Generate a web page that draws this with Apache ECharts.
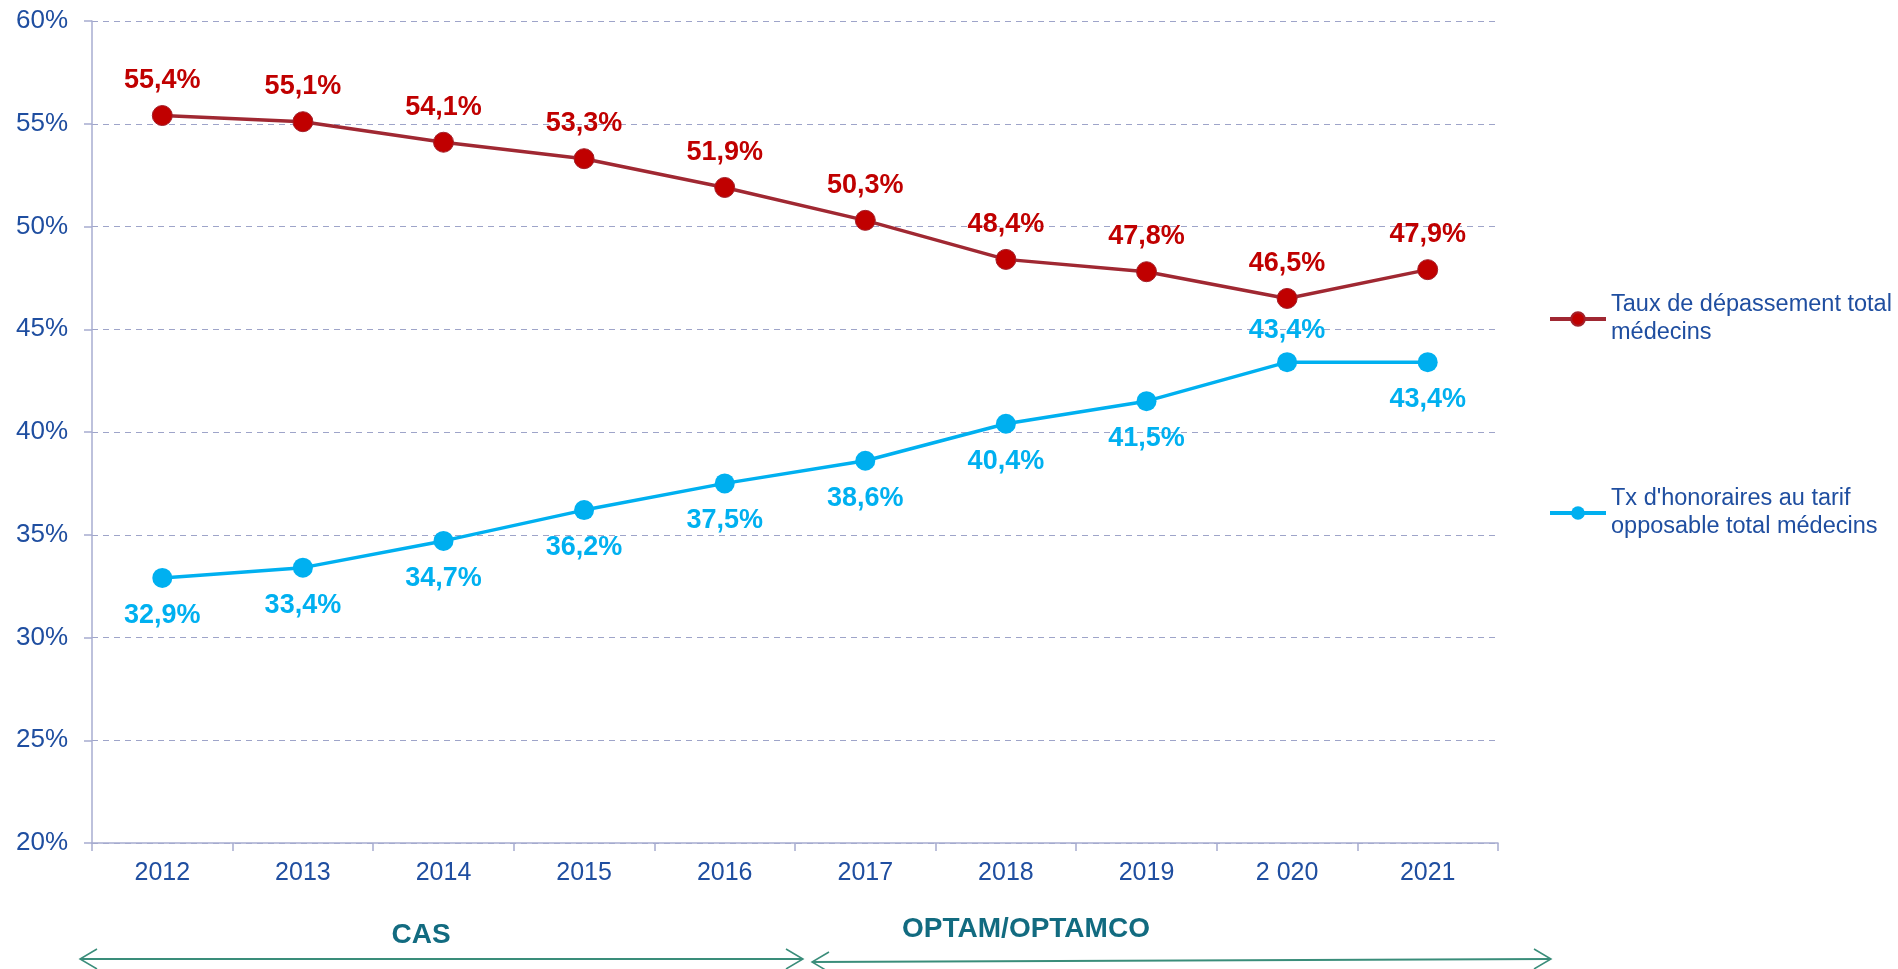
<!DOCTYPE html>
<html>
<head>
<meta charset="utf-8">
<script src="https://cdn.jsdelivr.net/npm/echarts@6/dist/echarts.min.js"></script>
<style>
  html, body { margin: 0; padding: 0; background: #fff; }
  #chart { width: 1898px; height: 969px; }
</style>
</head>
<body>
<div id="chart"></div>
<script>
const years = ["2012", "2013", "2014", "2015", "2016", "2017", "2018", "2019", "2 020", "2021"];
const depassement = [55.4, 55.1, 54.1, 53.3, 51.9, 50.3, 48.4, 47.8, 46.5, 47.9];
const tarifOpposable = [32.9, 33.4, 34.7, 36.2, 37.5, 38.6, 40.4, 41.5, 43.4, 43.4];
const blueLabelsAbove = ["2 020"];
const seriesNames = ["Taux de dépassement total\nmédecins", "Tx d'honoraires au tarif\nopposable total médecins"];

const FONT = "'Liberation Sans', Arial, sans-serif";
const AXIS_TEXT = "#1f4ea0";
const AXIS_LINE = "#a7acd0";
const RED = "#c00000";
const BLUE = "#00b0f0";
const TEAL = "#3a8d7a";

const pct = (v) => v.toFixed(1).replace(".", ",") + "%";

const chart = echarts.init(document.getElementById("chart"));

chart.setOption({
  backgroundColor: "#fff",
  animation: false,
  textStyle: { fontFamily: FONT },
  grid: { left: 92, right: 400, top: 21, bottom: 126 },
  legend: {
    orient: "vertical",
    left: 1543,
    top: 272,
    itemWidth: 56,
    itemHeight: 17,
    itemGap: 110,
    lineStyle: { width: 4 },
    textStyle: {
      color: AXIS_TEXT,
      fontSize: 23.5,
      lineHeight: 28,
      padding: [28, 0, 0, 0],
      fontFamily: FONT
    },
    data: seriesNames
  },
  xAxis: {
    type: "category",
    data: years,
    boundaryGap: true,
    axisLine: { lineStyle: { color: AXIS_LINE, width: 1.5 } },
    axisTick: { show: true, length: 8, lineStyle: { color: AXIS_LINE, width: 1.5 } },
    axisLabel: { color: AXIS_TEXT, fontSize: 25, margin: 18, fontFamily: FONT }
  },
  yAxis: {
    type: "value",
    min: 20,
    max: 60,
    interval: 5,
    axisLine: { show: true, lineStyle: { color: AXIS_LINE, width: 1.5 } },
    axisTick: { show: true, length: 8, lineStyle: { color: AXIS_LINE, width: 1.5 } },
    axisLabel: { color: AXIS_TEXT, fontSize: 26, margin: 24, formatter: "{value}%", fontFamily: FONT },
    splitLine: { lineStyle: { color: "#9ea4c9", width: 1.2, type: [6, 5] } }
  },
  series: [
    {
      name: seriesNames[0],
      type: "line",
      data: depassement,
      symbol: "circle",
      symbolSize: 20,
      lineStyle: { color: "#a02832", width: 3.5 },
      itemStyle: { color: RED, borderColor: "#a3202a", borderWidth: 1 },
      label: {
        show: true,
        position: "top",
        distance: 11,
        color: RED,
        fontSize: 27,
        fontWeight: "bold",
        fontFamily: FONT,
        formatter: (p) => pct(p.value)
      }
    },
    {
      name: seriesNames[1],
      type: "line",
      data: tarifOpposable.map((v, i) => blueLabelsAbove.includes(years[i])
        ? { value: v, label: { position: "top", distance: 8 } }
        : v),
      symbol: "circle",
      symbolSize: 20,
      lineStyle: { color: BLUE, width: 3.5 },
      itemStyle: { color: BLUE },
      label: {
        show: true,
        position: "bottom",
        distance: 14,
        color: BLUE,
        fontSize: 27,
        fontWeight: "bold",
        fontFamily: FONT,
        formatter: (p) => pct(p.value)
      }
    }
  ],
  graphic: [
    {
      type: "text",
      style: { text: "CAS", x: 421, y: 935, fill: "#126b80", font: "bold 28px " + FONT, align: "center", verticalAlign: "middle" }
    },
    {
      type: "text",
      style: { text: "OPTAM/OPTAMCO", x: 1026, y: 929, fill: "#126b80", font: "bold 28px " + FONT, align: "center", verticalAlign: "middle" }
    },
    { type: "line", shape: { x1: 80, y1: 959, x2: 803, y2: 959 }, style: { stroke: TEAL, lineWidth: 2 } },
    { type: "polyline", shape: { points: [[97, 949], [80, 959], [97, 969]] }, style: { stroke: TEAL, lineWidth: 1.5, fill: null } },
    { type: "polyline", shape: { points: [[786, 949], [803, 959], [786, 969]] }, style: { stroke: TEAL, lineWidth: 1.5, fill: null } },
    { type: "line", shape: { x1: 812, y1: 962, x2: 1551, y2: 959 }, style: { stroke: TEAL, lineWidth: 2 } },
    { type: "polyline", shape: { points: [[829, 952], [812, 962], [829, 972]] }, style: { stroke: TEAL, lineWidth: 1.5, fill: null } },
    { type: "polyline", shape: { points: [[1534, 949], [1551, 959], [1534, 969]] }, style: { stroke: TEAL, lineWidth: 1.5, fill: null } }
  ]
});

window.addEventListener("resize", () => chart.resize());
</script>
</body>
</html>
